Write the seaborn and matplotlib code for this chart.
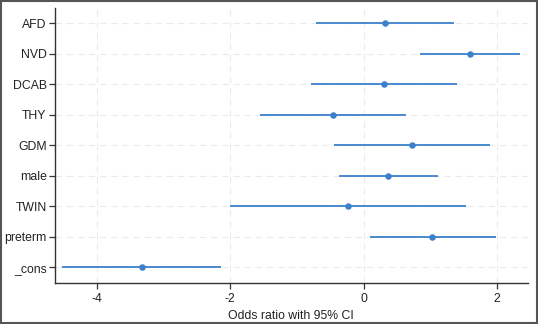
import numpy as np
import pandas as pd
import seaborn as sns
import matplotlib.pyplot as plt
from matplotlib.patches import Rectangle

# estimates
labels = ["AFD", "NVD", "DCAB", "THY", "GDM", "male", "TWIN", "preterm", "_cons"]
est = [0.32, 1.59, 0.30, -0.46, 0.72, 0.37, -0.23, 1.03, -3.33]
lo = [-0.72, 0.84, -0.79, -1.56, -0.45, -0.37, -2.00, 0.09, -4.53]
hi = [1.36, 2.35, 1.40, 0.63, 1.89, 1.12, 1.54, 1.99, -2.14]
xticks = [-4, -2, 0, 2]

df = pd.DataFrame({"var": labels, "est": est, "lo": lo, "hi": hi})
df["pos"] = np.arange(len(df))

sns.set_style("white")
plt.rcParams["font.family"] = ["Liberation Sans", "DejaVu Sans"]
plt.rcParams["axes.unicode_minus"] = False

color = "#3c80cc"
fig = plt.figure(figsize=(5.38, 3.24), dpi=100)
ax = fig.add_axes([0.102, 0.126, 0.879, 0.849])

# dashed grid
for y in df["pos"]:
    ax.axhline(y, color="#ebebeb", lw=0.8, ls=(0, (6, 4)), zorder=0)
for x in xticks:
    ax.axvline(x, color="#ebebeb", lw=0.8, ls=(0, (6, 4)), zorder=0)

ax.hlines(df["pos"], df["lo"], df["hi"], color=color, lw=1.3, zorder=2)
sns.scatterplot(data=df, x="est", y="pos", color=color, s=22, edgecolor=color,
                linewidth=0, zorder=3, ax=ax)

ax.set_ylim(8.52, -0.49)
ax.set_xlim(-4.63, 2.46)
ax.set_yticks(df["pos"])
ax.set_yticklabels(labels)
ax.set_xticks(xticks)
ax.set_ylabel("")
ax.set_xlabel("Odds ratio with 95% CI", fontsize=8.8, labelpad=4, color="#222222")

for s in ["top", "right"]:
    ax.spines[s].set_visible(False)
for s in ["left", "bottom"]:
    ax.spines[s].set_color("#333333")
    ax.spines[s].set_linewidth(1.0)
ax.tick_params(axis="both", direction="out", length=4, width=0.9, color="#333333",
               labelsize=8.8, labelcolor="#222222", left=True, bottom=True)
ax.tick_params(axis="y", pad=2)
ax.tick_params(axis="x", pad=3)

# figure border
fig.patches.append(Rectangle((0.002, 0.003), 0.996, 0.994, transform=fig.transFigure,
                             fill=False, edgecolor="#555555", lw=1.5))

fig.savefig("out.png", dpi=100)
